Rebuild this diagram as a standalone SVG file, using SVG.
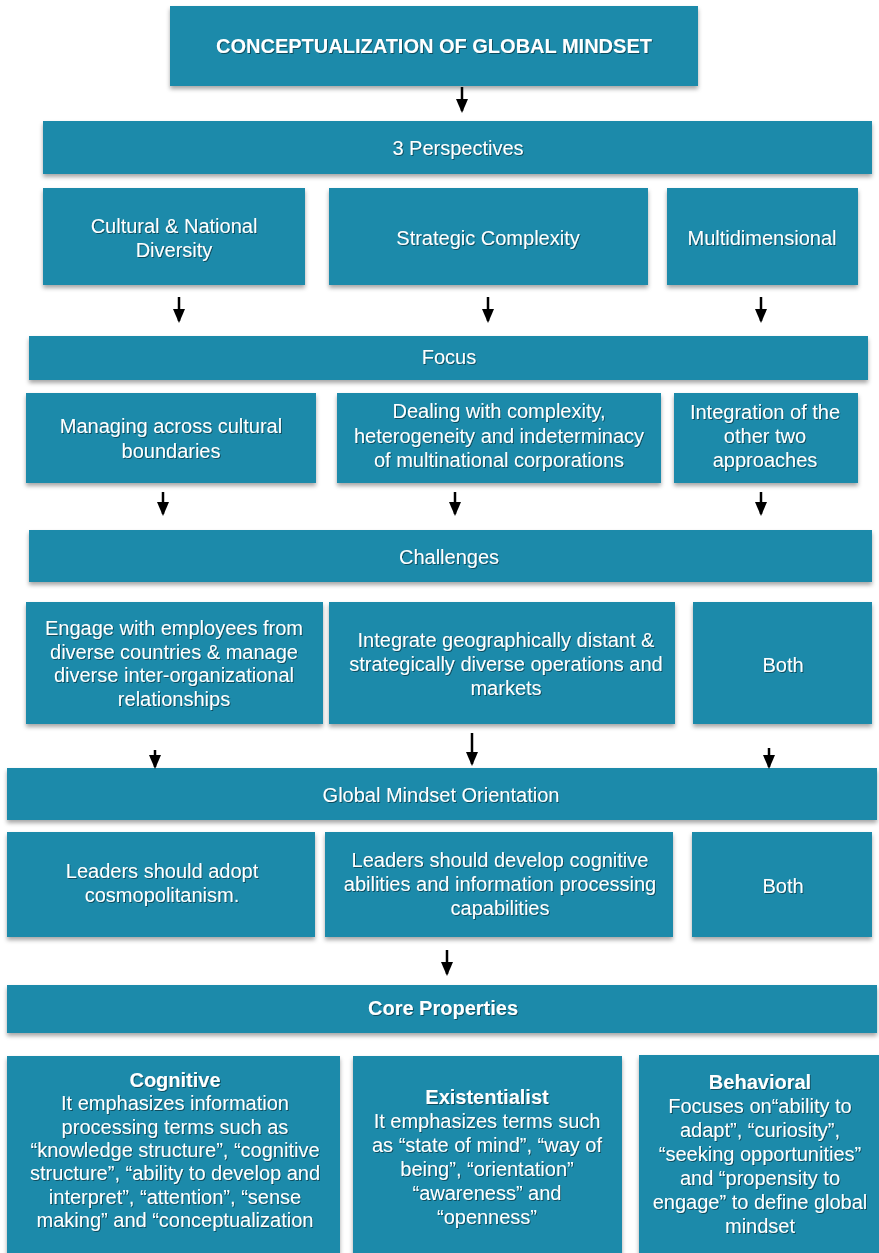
<svg xmlns="http://www.w3.org/2000/svg" width="879" height="1253" viewBox="0 0 879 1253">
<defs>
<style>
.box{fill:#1E8AAA;filter:url(#sh)}
.t{font-family:"Liberation Sans",Arial,sans-serif;font-size:20px;fill:#fff;text-anchor:middle;filter:url(#ts)}
.b{font-weight:bold}
.c line{stroke:#000;stroke-width:2.5;marker-end:url(#ah)}
</style>
<filter id="sh" x="-5%" y="-10%" width="110%" height="130%"><feDropShadow dx="0" dy="3" stdDeviation="2" flood-color="#000" flood-opacity="0.35"/></filter>
<filter id="ts" x="-5%" y="-20%" width="110%" height="150%"><feDropShadow dx="1" dy="1" stdDeviation="0.6" flood-color="#000" flood-opacity="0.45"/></filter>
<marker id="ah" viewBox="0 0 14 12" refX="12" refY="6" markerWidth="5.6" markerHeight="4.8" markerUnits="strokeWidth" orient="auto"><path d="M0,0 L14,6 L0,12 Z" fill="#000"/></marker>
</defs>
<rect width="879" height="1253" fill="#fff"/>

<g id="title"><rect class="box" x="170" y="6" width="528" height="80"/><text class="t b" x="434" y="53" font-size="19">CONCEPTUALIZATION OF GLOBAL MINDSET</text></g>

<g id="perspectives"><rect class="box" x="43" y="121" width="829" height="53"/><text class="t" x="458" y="155">3 Perspectives</text></g>
<g id="p-cultural"><rect class="box" x="43" y="188" width="262" height="97"/><text class="t" x="174" y="233">Cultural &amp; National<tspan x="174" dy="24">Diversity</tspan></text></g>
<g id="p-strategic"><rect class="box" x="329" y="188" width="319" height="97"/><text class="t" x="488" y="245">Strategic Complexity</text></g>
<g id="p-multi"><rect class="box" x="667" y="188" width="191" height="97"/><text class="t" x="762" y="245">Multidimensional</text></g>

<g id="focus"><rect class="box" x="29" y="336" width="839" height="44"/><text class="t" x="449" y="364">Focus</text></g>
<g id="f-managing"><rect class="box" x="26" y="393" width="290" height="90"/><text class="t" x="171" y="433">Managing across cultural<tspan x="171" dy="25">boundaries</tspan></text></g>
<g id="f-dealing"><rect class="box" x="337" y="393" width="324" height="90"/><text class="t" x="499" y="418">Dealing with complexity,<tspan x="499" dy="24.5">heterogeneity and indeterminacy</tspan><tspan x="499" dy="24.5">of multinational corporations</tspan></text></g>
<g id="f-integration"><rect class="box" x="674" y="393" width="184" height="90"/><text class="t" x="765" y="419">Integration of the<tspan x="765" dy="24">other two</tspan><tspan x="765" dy="24">approaches</tspan></text></g>

<g id="challenges"><rect class="box" x="29" y="530" width="843" height="52"/><text class="t" x="449" y="564">Challenges</text></g>
<g id="c-engage"><rect class="box" x="26" y="602" width="297" height="122"/><text class="t" x="174" y="635">Engage with employees from<tspan x="174" dy="23.7">diverse countries &amp; manage</tspan><tspan x="174" dy="23.7">diverse inter-organizational</tspan><tspan x="174" dy="23.7">relationships</tspan></text></g>
<g id="c-integrate"><rect class="box" x="329" y="602" width="346" height="122"/><text class="t" x="506" y="647">Integrate geographically distant &amp;<tspan x="506" dy="24">strategically diverse operations and</tspan><tspan x="506" dy="24">markets</tspan></text></g>
<g id="c-both"><rect class="box" x="693" y="602" width="179" height="122"/><text class="t" x="783" y="672">Both</text></g>

<g id="orientation"><rect class="box" x="7" y="768" width="870" height="52"/><text class="t" x="441" y="802">Global Mindset Orientation</text></g>
<g id="o-adopt"><rect class="box" x="7" y="832" width="308" height="105"/><text class="t" x="162" y="878">Leaders should adopt<tspan x="162" dy="24">cosmopolitanism.</tspan></text></g>
<g id="o-develop"><rect class="box" x="325" y="832" width="348" height="105"/><text class="t" x="500" y="867">Leaders should develop cognitive<tspan x="500" dy="24">abilities and information processing</tspan><tspan x="500" dy="24">capabilities</tspan></text></g>
<g id="o-both"><rect class="box" x="692" y="832" width="180" height="105"/><text class="t" x="783" y="893">Both</text></g>

<g id="core"><rect class="box" x="7" y="985" width="870" height="48"/><text class="t b" x="443" y="1015">Core Properties</text></g>
<g id="cp-cognitive"><rect class="box" x="7" y="1056" width="333" height="205"/><text class="t" x="175" y="1087"><tspan class="b">Cognitive</tspan><tspan x="175" dy="23.3">It emphasizes information</tspan><tspan x="175" dy="23.3">processing terms such as</tspan><tspan x="175" dy="23.3">“knowledge structure”, “cognitive</tspan><tspan x="175" dy="23.3">structure”, “ability to develop and</tspan><tspan x="175" dy="23.3">interpret”, “attention”, “sense</tspan><tspan x="175" dy="23.3">making” and “conceptualization</tspan></text></g>
<g id="cp-existentialist"><rect class="box" x="353" y="1056" width="269" height="205"/><text class="t" x="487" y="1104"><tspan class="b">Existentialist</tspan><tspan x="487" dy="24">It emphasizes terms such</tspan><tspan x="487" dy="24">as “state of mind”, “way of</tspan><tspan x="487" dy="24">being”, “orientation”</tspan><tspan x="487" dy="24">“awareness” and</tspan><tspan x="487" dy="24">“openness”</tspan></text></g>
<g id="cp-behavioral"><rect class="box" x="639" y="1055" width="245" height="206"/><text class="t" x="760" y="1089"><tspan class="b">Behavioral</tspan><tspan x="760" dy="24">Focuses on“ability to</tspan><tspan x="760" dy="24">adapt”, “curiosity”,</tspan><tspan x="760" dy="24">“seeking opportunities”</tspan><tspan x="760" dy="24">and “propensity to</tspan><tspan x="760" dy="24">engage” to define global</tspan><tspan x="760" dy="24">mindset</tspan></text></g>

<g id="connectors" class="c">
<line x1="462" y1="87" x2="462" y2="111"/>
<line x1="179" y1="297" x2="179" y2="321"/>
<line x1="488" y1="297" x2="488" y2="321"/>
<line x1="761" y1="297" x2="761" y2="321"/>
<line x1="163" y1="492" x2="163" y2="514"/>
<line x1="455" y1="492" x2="455" y2="514"/>
<line x1="761" y1="492" x2="761" y2="514"/>
<line x1="155" y1="750" x2="155" y2="767"/>
<line x1="472" y1="733" x2="472" y2="764"/>
<line x1="769" y1="748" x2="769" y2="767"/>
<line x1="447" y1="950" x2="447" y2="974"/>
</g>
</svg>
